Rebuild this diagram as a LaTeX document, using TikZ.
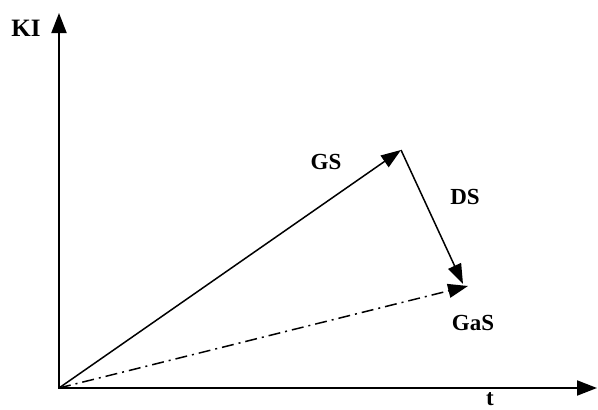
\documentclass[tikz,border=0pt]{standalone}
\usepackage{fontspec}
\setmainfont{Liberation Serif}
\usetikzlibrary{arrows.meta, positioning}

\begin{document}
\begin{tikzpicture}[
          x=1pt, y=-1pt,
          axis/.style={-{Triangle[length=20pt, width=15pt]}, black, line width=2pt},
          vec/.style={-{Triangle[length=20pt, width=14pt]}, black, line width=1.5pt},
          res/.style={-{Triangle[length=20pt, width=14pt]}, black, line width=1.5pt,
              dash pattern=on 12pt off 5pt on 2pt off 5pt},
          lbl/.style={font=\fontsize{23}{26}\selectfont\bfseries, inner sep=0pt}
        ]
        \useasboundingbox (0,0) rectangle (598,410);

        \coordinate (origin) at (59,388);
        \coordinate (ytip) at (59,13);
        \coordinate (xtip) at (597,388);
        \coordinate (gsend) at (401,150);
        \coordinate (dsend) at (463,284);
        \coordinate (gasend) at (468,286);

        \draw[axis] (origin) -- (ytip);
        \draw[axis] ([xshift=-1pt]origin) -- (xtip);

        \draw[vec] (origin) -- (gsend);
        \draw[vec] (gsend) -- (dsend);
        \draw[res] (origin) -- (gasend);

        \node[lbl] (ki) at (26,28) {\fontsize{25}{28}\selectfont KI};
        \node[lbl] (tlbl) at (490,399) {t};
        \node[lbl] (gs) at (326,162) {GS};
        \node[lbl] (ds) at (465,197) {DS};
        \node[lbl] (gas) at (473,323) {GaS};
      \end{tikzpicture}
\end{document}
